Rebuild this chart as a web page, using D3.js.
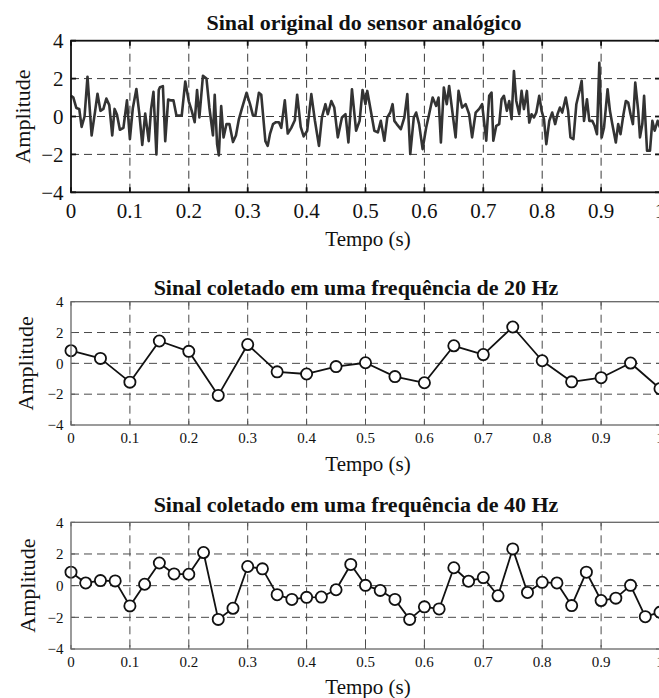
<!DOCTYPE html>
<html>
<head>
<meta charset="utf-8">
<script src="https://cdn.jsdelivr.net/npm/d3@7"></script>
<style>
  html, body { margin: 0; padding: 0; background: #ffffff; }
  svg { display: block; }
  text { font-family: "Liberation Serif", "Times New Roman", serif; fill: #111; }
</style>
</head>
<body>
<svg id="chart" width="659" height="698"></svg>
<script>
// ---------- DATA ----------
const panelTitles = [
  "Sinal original do sensor analógico",
  "Sinal coletado em uma frequência de 20 Hz",
  "Sinal coletado em uma frequência de 40 Hz"
];
const xAxisLabel = "Tempo (s)";
const yAxisLabel = "Amplitude";
const xTickValues = [0, 0.1, 0.2, 0.3, 0.4, 0.5, 0.6, 0.7, 0.8, 0.9, 1];
const xTickLabels = ["0", "0.1", "0.2", "0.3", "0.4", "0.5", "0.6", "0.7", "0.8", "0.9", "1"];
const yTickValues = [4, 2, 0, -2, -4];
const yTickLabels = ["4", "2", "0", "\u22122", "\u22124"];

// Original analog signal
const originalTime = [
  0.000, 0.004, 0.009, 0.014, 0.018, 0.023, 0.028, 0.035, 0.041, 0.045,
  0.050, 0.055, 0.060, 0.065, 0.070, 0.074, 0.078, 0.083, 0.089, 0.095,
  0.100, 0.105, 0.111, 0.116, 0.121, 0.126, 0.132, 0.136, 0.140, 0.145,
  0.149, 0.151, 0.156, 0.160, 0.165, 0.170, 0.174, 0.179, 0.184, 0.188,
  0.194, 0.200, 0.205, 0.210, 0.214, 0.218, 0.224, 0.230, 0.235, 0.241,
  0.244, 0.248, 0.251, 0.255, 0.259, 0.264, 0.269, 0.275, 0.280, 0.285,
  0.290, 0.298, 0.304, 0.309, 0.313, 0.319, 0.323, 0.330, 0.334, 0.338,
  0.343, 0.348, 0.353, 0.357, 0.363, 0.368, 0.374, 0.380, 0.384, 0.390,
  0.395, 0.401, 0.408, 0.414, 0.421, 0.426, 0.432, 0.436, 0.442, 0.447,
  0.453, 0.460, 0.466, 0.471, 0.477, 0.484, 0.490, 0.495, 0.500, 0.503,
  0.509, 0.515, 0.521, 0.526, 0.532, 0.537, 0.542, 0.546, 0.549, 0.553,
  0.560, 0.566, 0.571, 0.576, 0.582, 0.586, 0.591, 0.597, 0.603, 0.608,
  0.614, 0.620, 0.624, 0.628, 0.633, 0.638, 0.642, 0.648, 0.653, 0.658,
  0.664, 0.670, 0.676, 0.681, 0.687, 0.693, 0.698, 0.705, 0.710, 0.714,
  0.717, 0.722, 0.727, 0.731, 0.735, 0.740, 0.744, 0.748, 0.752, 0.756,
  0.761, 0.765, 0.769, 0.774, 0.778, 0.782, 0.786, 0.790, 0.795, 0.799,
  0.803, 0.807, 0.812, 0.817, 0.822, 0.826, 0.830, 0.834, 0.840, 0.844,
  0.848, 0.853, 0.858, 0.864, 0.867, 0.871, 0.876, 0.880, 0.885, 0.889,
  0.893, 0.897, 0.901, 0.905, 0.911, 0.915, 0.919, 0.925, 0.929, 0.933,
  0.938, 0.942, 0.946, 0.950, 0.954, 0.958, 0.963, 0.966, 0.970, 0.973,
  0.978, 0.983, 0.987, 0.991, 0.996, 1.000
];
const originalAmp = [
   1.10,  1.00,  0.45,  0.40, -0.55,  0.00,  2.10, -1.00,  0.30,  1.20,
   0.30,  0.40,  0.95,  0.60, -1.00,  0.40,  0.10, -0.70, -0.60,  0.85,
  -1.20,  0.45,  1.45,  0.15, -1.50,  0.15, -1.30,  0.40,  1.30, -2.00,
   1.40,  1.55,  1.60, -1.30,  0.90,  0.85,  0.85,  0.05,  0.05,  0.05,
   1.85,  0.80,  0.30, -0.30,  1.40, -0.05,  2.15,  2.00,  0.45, -1.00,
   1.15, -1.45, -2.05,  0.55, -1.10, -0.40, -0.40, -1.35, -1.00, -0.15,
   0.40,  1.25,  0.65,  0.05,  0.05,  1.25,  1.15, -1.30, -1.55, -0.90,
  -0.40, -0.30, -0.30, -0.60,  0.85, -0.90, -0.60, -0.20,  1.15, -0.55,
  -1.05, -0.75,  1.18, -0.20, -1.55, -0.05,  0.65,  0.12,  0.82,  0.47,
  -1.10, -0.05,  0.12, -1.37,  1.44, -0.75, -0.23,  1.40,  0.65,  1.35,
   0.30, -0.75, -0.84, -0.23, -1.28, -0.05,  0.21,  0.65, -0.23, -0.40,
  -0.67, -0.05,  1.18, -1.98, -0.05,  0.21, -0.40, -1.72, -0.58,  0.12,
   1.00,  0.56,  1.00, -1.37,  1.53,  0.65,  1.61,  0.12, -1.10,  1.35,
   0.47,  0.65,  0.12, -1.10,  0.20,  0.40,  0.65, -1.28,  1.09,  1.26,
  -1.28, -0.49, -0.40,  0.91,  1.09,  0.30,  0.82, -0.14,  2.40,  0.82,
   0.12,  1.35,  0.39,  1.35, -0.32,  0.12, -0.05,  0.21,  1.09,  0.30,
  -0.14, -1.46, -0.23,  0.21, -0.40,  0.12,  0.47,  0.21,  1.00,  0.30,
  -1.10, -1.19,  0.65,  1.44,  1.88, -0.23,  0.91, -0.23, -0.23, -0.49,
  -0.93,  2.84, -1.10, -0.58,  1.44,  0.30, -0.40, -1.37, -0.40, -0.93,
   0.12,  0.82,  0.74,  0.12, -0.40,  1.79,  0.30, -1.10, -0.40,  1.09,
  -1.80, -1.80, -0.23, -0.75, -0.23, -0.58
];

// Samples at 20 Hz
const sample20Time = [0, 0.05, 0.1, 0.15, 0.2, 0.25, 0.3, 0.35, 0.4, 0.45, 0.5,
                      0.55, 0.6, 0.65, 0.7, 0.75, 0.8, 0.85, 0.9, 0.95, 1.0];
const sample20Amp = [0.82, 0.32, -1.22, 1.45, 0.78, -2.08, 1.22, -0.55, -0.69, -0.21, 0.04,
                     -0.86, -1.26, 1.14, 0.57, 2.36, 0.17, -1.20, -0.93, 0.02, -1.64];

// Samples at 40 Hz
const sample40Time = [0, 0.025, 0.05, 0.075, 0.1, 0.125, 0.15, 0.175, 0.2, 0.225,
                      0.25, 0.275, 0.3, 0.325, 0.35, 0.375, 0.4, 0.425, 0.45, 0.475,
                      0.5, 0.525, 0.55, 0.575, 0.6, 0.625, 0.65, 0.675, 0.7, 0.725,
                      0.75, 0.775, 0.8, 0.825, 0.85, 0.875, 0.9, 0.925, 0.95, 0.975, 1.0];
const sample40Amp = [0.85, 0.17, 0.32, 0.30, -1.28, 0.09, 1.43, 0.74, 0.72, 2.09,
                     -2.13, -1.43, 1.21, 1.06, -0.57, -0.87, -0.74, -0.72, -0.26, 1.34,
                     0.02, -0.30, -0.87, -2.13, -1.34, -1.47, 1.13, 0.28, 0.51, -0.64,
                     2.32, -0.43, 0.21, 0.17, -1.26, 0.85, -0.94, -0.79, 0.02, -1.96, -1.68];

// ---------- DRAWING ----------
const svg = d3.select("#chart");
const xLeft = 71, xRight = 660;

const panels = [
  { top: 40.7, bottom: 192.3, time: originalTime, amp: originalAmp, markers: false,
    titleX: 364, titleY: 30, big: true, xLabelY: 246, xTickY: 218, yLabelX: 22 },
  { top: 301.7, bottom: 425, time: sample20Time, amp: sample20Amp, markers: true,
    titleX: 356, titleY: 295, big: false, xLabelY: 471, xTickY: 443, yLabelX: 25 },
  { top: 522.3, bottom: 649, time: sample40Time, amp: sample40Amp, markers: true,
    titleX: 356, titleY: 512, big: false, xLabelY: 694, xTickY: 667, yLabelX: 27 }
];

panels.forEach((p, idx) => {
  const x = d3.scaleLinear().domain([0, 1]).range([xLeft, xRight]);
  const y = d3.scaleLinear().domain([-4, 4]).range([p.bottom, p.top]);
  const g = svg.append("g");
  const gridColor = p.big ? "#3a3a3a" : "#4a4a4a";

  // grid lines (dashed)
  g.selectAll(".vgrid").data(xTickValues.slice(1, -1)).enter().append("line")
    .attr("x1", d => x(d)).attr("x2", d => x(d))
    .attr("y1", p.top).attr("y2", p.bottom)
    .attr("stroke", gridColor).attr("stroke-width", 1)
    .attr("stroke-dasharray", "8,5");
  g.selectAll(".hgrid").data(yTickValues.slice(1, -1)).enter().append("line")
    .attr("x1", xLeft).attr("x2", xRight)
    .attr("y1", d => y(d)).attr("y2", d => y(d))
    .attr("stroke", gridColor).attr("stroke-width", 1)
    .attr("stroke-dasharray", "8,5");

  // inward tick marks
  const tl = p.big ? 5 : 4;
  const tickColor = p.big ? "#111" : "#555";
  const tw = p.big ? 1.8 : 1;
  xTickValues.forEach(v => {
    g.append("line").attr("x1", x(v)).attr("x2", x(v)).attr("y1", p.top).attr("y2", p.top + tl)
      .attr("stroke", tickColor).attr("stroke-width", tw);
    g.append("line").attr("x1", x(v)).attr("x2", x(v)).attr("y1", p.bottom).attr("y2", p.bottom - tl)
      .attr("stroke", tickColor).attr("stroke-width", tw);
  });
  yTickValues.forEach(v => {
    g.append("line").attr("x1", xLeft).attr("x2", xLeft + tl).attr("y1", y(v)).attr("y2", y(v))
      .attr("stroke", tickColor).attr("stroke-width", tw);
    g.append("line").attr("x1", xRight).attr("x2", xRight - tl).attr("y1", y(v)).attr("y2", y(v))
      .attr("stroke", tickColor).attr("stroke-width", tw);
  });

  // data line
  const pts = p.time.map((t, i) => [t, p.amp[i]]);
  const line = d3.line().x(d => x(d[0])).y(d => y(d[1]));
  g.append("path").datum(pts)
    .attr("d", line)
    .attr("fill", "none")
    .attr("stroke", p.big ? "#333" : "#111")
    .attr("stroke-width", p.big ? 2.6 : 1.8)
    .attr("stroke-linejoin", "round");

  if (p.markers) {
    g.selectAll(".mk").data(pts).enter().append("circle")
      .attr("cx", d => x(d[0])).attr("cy", d => y(d[1]))
      .attr("r", 5.6)
      .attr("fill", "#fff").attr("stroke", "#111").attr("stroke-width", 1.8);
  }

  // border
  g.append("rect").attr("x", xLeft).attr("y", p.top)
    .attr("width", xRight - xLeft).attr("height", p.bottom - p.top)
    .attr("fill", "none")
    .attr("stroke", p.big ? "#111" : "#666")
    .attr("stroke-width", p.big ? 1.8 : 1.3);

  // tick labels
  const tickFont = p.big ? 21 : 15;
  g.selectAll(".xtl").data(xTickValues).enter().append("text")
    .attr("x", d => x(d)).attr("y", p.xTickY)
    .attr("text-anchor", "middle")
    .attr("font-size", tickFont)
    .text((d, i) => xTickLabels[i]);
  g.selectAll(".ytl").data(yTickValues).enter().append("text")
    .attr("x", 63.5).attr("y", d => y(d))
    .attr("dy", "0.35em")
    .attr("text-anchor", "end")
    .attr("font-size", tickFont)
    .text((d, i) => yTickLabels[i]);

  // title
  g.append("text").attr("x", p.titleX).attr("y", p.titleY)
    .attr("text-anchor", "middle")
    .attr("font-size", 22).attr("font-weight", "bold")
    .text(panelTitles[idx]);

  // axis labels
  g.append("text").attr("x", 368).attr("y", p.xLabelY)
    .attr("text-anchor", "middle").attr("font-size", 21)
    .text(xAxisLabel);
  g.append("text")
    .attr("transform", `translate(${p.yLabelX},${(p.top + p.bottom) / 2}) rotate(-90)`)
    .attr("dy", "0.35em")
    .attr("text-anchor", "middle").attr("font-size", 22)
    .text(yAxisLabel);
});
</script>
</body>
</html>
